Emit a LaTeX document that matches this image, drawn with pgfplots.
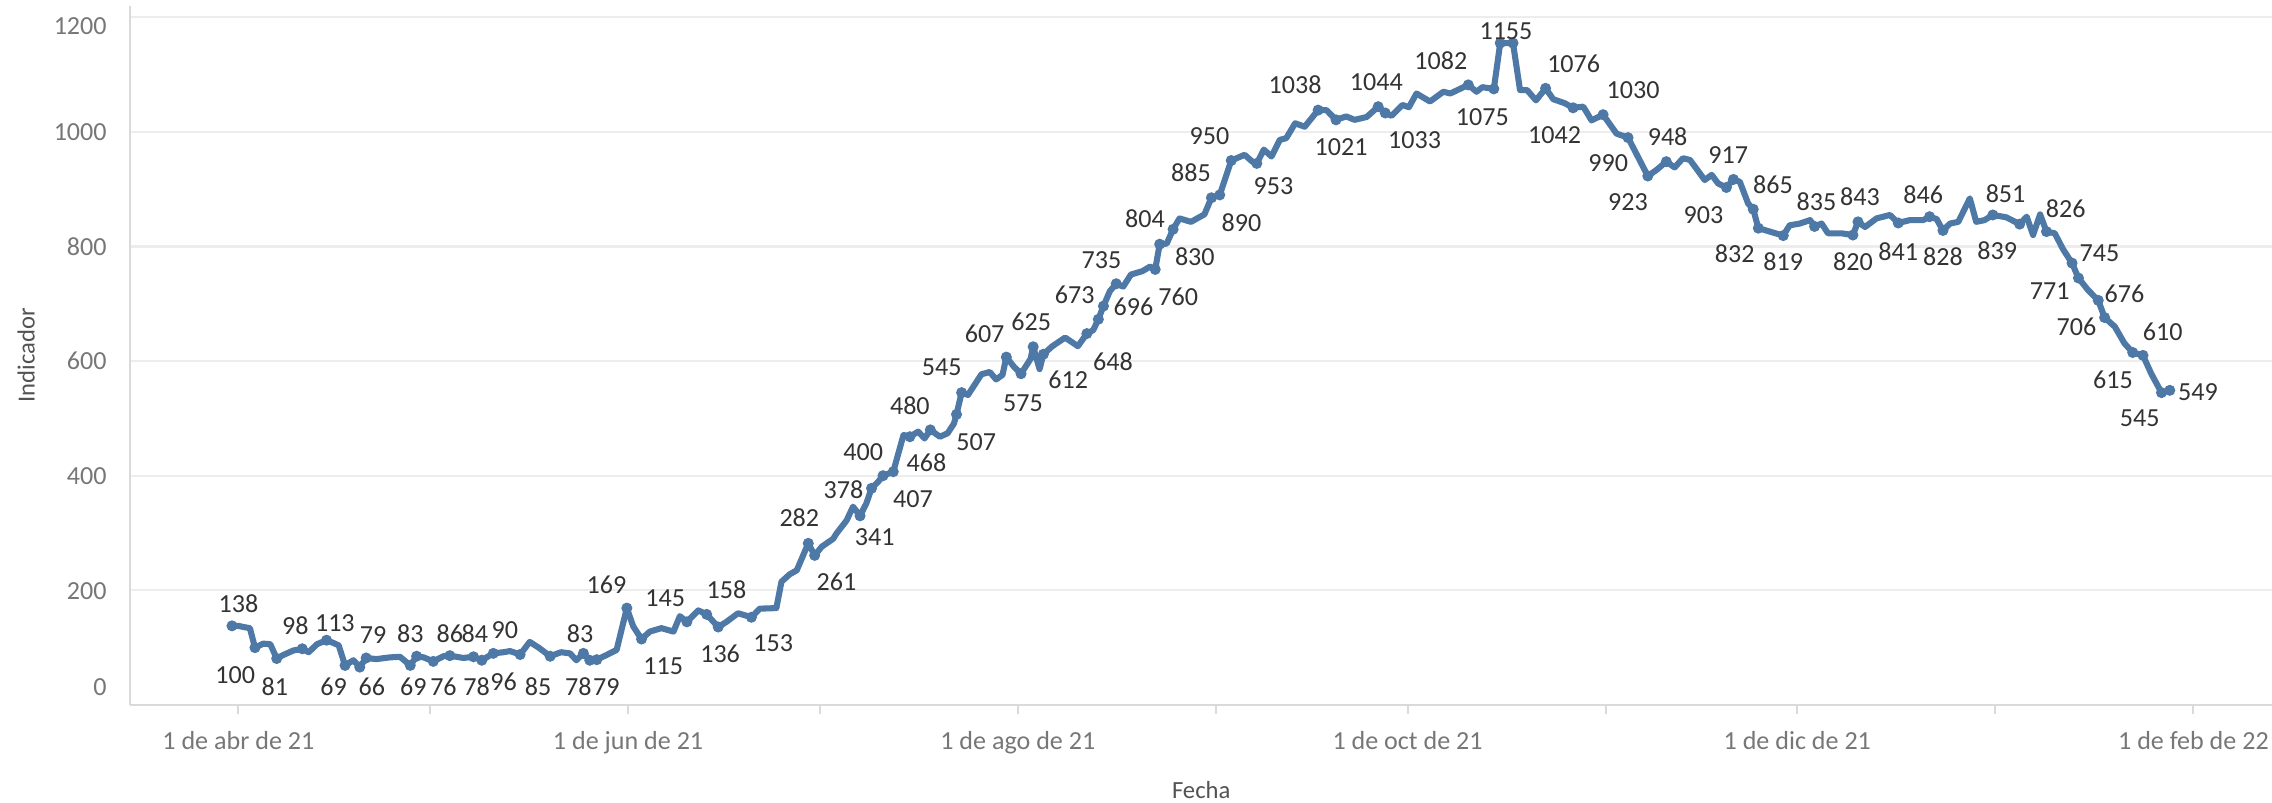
\documentclass[border=0pt]{standalone}
\usepackage{fontspec}
\setmainfont{Carlito}
\usepackage{pgfplots}
\pgfplotsset{compat=1.18}
\definecolor{tabblue}{HTML}{4E79A7}
\definecolor{gridgray}{HTML}{EDEDED}
\definecolor{axgray}{HTML}{DADADA}
\definecolor{ticktext}{HTML}{777777}
\definecolor{labtext}{HTML}{333333}

% day 0 = 1 de abr de 21
\pgfplotstableread{
day val
-1.0 138
0.0 138
0.8 136
1.8 134
2.6 100
3.9 107
5.0 106
6.0 81
7.0 87
8.6 95
10.0 98
11.0 92
12.3 106
13.8 113
14.9 108
15.7 104
16.7 69
18.0 78
19.0 66
20.0 82
21.6 80
23.7 83
25.3 84
26.9 69
27.9 85
29.0 83
30.5 76
32.1 85
33.1 86
35.2 82
36.8 84
38.1 78
39.9 90
41.5 92
42.5 94
44.1 88
45.6 110
47.0 100
48.8 85
50.5 92
51.9 90
52.9 78
54.0 90
55.0 78
56.1 79
57.6 87
59.2 96
60.8 169
61.8 137
63.1 115
64.4 128
66.2 134
68.1 128
69.1 155
70.2 145
72.0 165
73.3 158
75.1 136
76.4 145
78.2 160
80.3 153
81.6 168
84.2 169
85.0 215
86.3 228
87.4 235
89.2 282
90.2 261
91.3 276
93.1 290
93.6 299
95.2 322
96.2 346
97.3 330
98.3 352
99.1 378
100.1 389
100.9 400
102.5 407
104.1 471
105.1 468
106.4 477
107.4 465
108.3 480
109.8 468
111.0 474
112.0 491
112.4 507
113.2 545
114.2 541
116.3 577
117.6 581
118.6 568
119.6 576
120.2 607
121.4 590
122.5 578
124.0 604
124.4 625
125.4 586
126.0 612
127.4 626
129.4 641
131.4 626
132.8 648
133.8 654
134.6 673
135.4 696
136.4 722
137.4 735
138.5 730
139.7 751
141.5 757
142.7 765
143.5 760
144.2 804
145.3 805
146.3 830
147.3 849
149.1 843
151.2 856
152.3 885
153.6 890
155.4 950
157.5 960
158.7 948
159.4 945
160.5 969
161.7 957
163.0 986
164.0 989
165.4 1015
166.9 1009
169.0 1038
170.3 1038
171.8 1021
173.4 1027
174.7 1021
176.6 1026
178.4 1044
179.5 1033
180.5 1028
182.2 1047
183.2 1043
184.4 1067
186.5 1053
188.6 1070
189.7 1067
192.5 1082
193.8 1070
194.7 1078
196.5 1075
197.5 1155
199.5 1155
200.6 1073
201.7 1073
203.1 1055
204.6 1076
205.8 1057
207.6 1050
208.9 1042
210.5 1044
211.8 1020
213.6 1030
215.7 997
217.5 990
218.8 962
220.6 923
221.9 933
223.5 948
224.8 938
226.1 954
227.2 951
228.2 936
229.5 916
230.6 925
231.6 910
232.9 903
234.0 917
235.0 913
236.3 875
237.1 865
237.9 832
239.7 826
241.8 819
242.8 837
244.4 840
246.0 846
246.7 835
247.8 840
248.8 823
250.9 823
252.7 820
253.5 843
254.6 834
256.4 849
258.5 855
259.8 841
261.6 846
263.7 846
264.7 852
265.8 848
266.8 828
267.9 840
269.2 843
271.0 884
272.0 843
273.3 846
274.6 855
276.7 851
278.8 839
279.9 852
280.9 820
282.0 856
283.0 826
284.3 823
285.6 795
287.0 771
288.0 745
289.5 724
291.1 706
292.1 676
293.7 660
295.2 631
296.5 615
298.1 610
299.4 578
301.0 545
302.3 549
}\serie

% puntos con etiqueta (marcas)
\pgfplotstableread{
day val
-1.0 138
2.6 100
6.0 81
10.0 98
13.8 113
16.7 69
19.0 66
20.0 82
26.9 69
27.9 85
30.5 76
33.1 86
36.8 84
38.1 78
39.9 90
44.1 88
48.8 85
54.0 90
55.0 78
56.1 79
60.8 169
63.1 115
70.2 145
73.3 158
75.1 136
80.3 153
89.2 282
90.2 261
97.3 330
99.1 378
100.9 400
102.5 407
105.1 468
108.3 480
112.4 507
113.2 545
120.2 607
122.5 578
124.4 625
126.0 612
132.8 648
134.6 673
135.4 696
137.4 735
143.5 760
144.2 804
146.3 830
152.3 885
153.6 890
155.4 950
159.4 945
169.0 1038
171.8 1021
178.4 1044
179.5 1033
192.5 1082
196.5 1075
197.5 1155
199.5 1155
204.6 1076
208.9 1042
213.6 1030
217.5 990
220.6 923
223.5 948
232.9 903
234.0 917
237.1 865
237.9 832
241.8 819
246.7 835
252.7 820
253.5 843
259.8 841
264.7 852
266.8 828
274.6 855
278.8 839
283.0 826
287.0 771
288.0 745
291.1 706
292.1 676
296.5 615
298.1 610
301.0 545
302.3 549
}\marcas

% posicion de cada etiqueta y su texto
\pgfplotstableread{
day val lab
0.0 177 138
-0.5 52 100
5.7 32 81
8.9 139 98
15.1 142 113
14.9 32 69
21.1 122 79
20.9 32 66
26.9 125 83
27.4 32 69
33.1 125 86
32.1 32 76
37.3 32 78
37.0 125 84
41.7 131 90
41.5 40 96
46.9 32 85
53.5 125 83
53.2 32 78
57.6 32 79
57.6 209 169
66.8 186 145
66.5 67 115
76.4 201 158
75.4 90 136
83.7 107 153
87.8 326 282
93.6 215 261
94.7 375 378
99.6 292 341
97.8 442 400
105.6 359 407
105.1 522 480
107.7 422 468
110.1 590 545
115.5 459 507
116.8 648 607
122.8 526 575
124.1 669 625
129.9 567 612
136.9 599 648
130.9 715 673
140.1 694 696
135.1 777 735
147.1 712 760
141.9 849 804
149.7 782 830
149.1 928 885
157.0 841 890
152.0 992 950
162.0 905 953
165.4 1082 1038
172.6 974 1021
178.1 1087 1044
184.1 986 1033
188.2 1125 1082
194.7 1026 1075
198.4 1176 1155
209.0 1118 1076
206.0 994 1042
218.3 1073 1030
214.4 945 990
217.5 878 923
223.7 991 948
233.2 959 917
229.3 855 903
240.2 907 865
234.2 788 832
247.0 878 835
253.8 887 843
241.8 773 819
252.7 773 820
259.8 791 841
263.7 890 846
266.8 782 828
276.6 893 851
275.3 792 839
286.0 866 826
291.3 788 745
283.5 722 771
295.2 718 676
287.7 660 706
301.2 651 610
293.4 567 615
297.6 500 545
306.7 546 549
}\etiquetas

\begin{document}
\begin{tikzpicture}
\begin{axis}[
  at={(0,0)}, anchor=south west,
  width=739pt, height=241.25pt, scale only axis,
  xmin=-16.9, xmax=318.3,
  ymin=0, ymax=1220,
  clip=false,
  axis lines=left,
  axis line style={-, draw=axgray, line width=0.7pt},
  xtick={0,61,122,183,244,306},
  xticklabels={1 de abr de 21,1 de jun de 21,1 de ago de 21,1 de oct de 21,1 de dic de 21,1 de feb de 22},
  minor xtick={30,91,153,214,275},
  tick align=outside,
  major tick length=3pt, minor tick length=3pt,
  xtick style={draw=axgray, line width=0.7pt},
  ytick={0,200,...,1200},
  ytick style={draw=none},
  ymajorgrids,
  major grid style={draw=gridgray, line width=0.7pt},
  /pgf/number format/assume math mode=true,
  tick label style={font=\fontsize{9}{10}\selectfont, text=ticktext},
  xticklabel style={anchor=north, inner sep=0pt, yshift=-6pt},
  % as in the reference, the end labels 0 and 1200 are pulled inside the plot
  yticklabel={\pgfmathtruncatemacro\t{\tick}%
    \ifnum\t=0 \smash{\raisebox{3.2pt}{\t}}%
    \else\ifnum\t=1200 \smash{\raisebox{-6pt}{\t}}%
    \else \smash{\raisebox{-3pt}{\t}}\fi\fi},
  yticklabel style={anchor=east, inner sep=0pt, xshift=-5pt},
  xlabel={Fecha},
  ylabel={Indicador},
  label style={font=\fontsize{8.5}{10}\selectfont, text=labtext!85},
  xlabel style={at={(axis description cs:0.5,-0.121)}, anchor=center},
  ylabel style={at={(axis description cs:-0.0487,0.5)}, anchor=center},
]
\addplot[color=tabblue, line width=2.1pt, line join=round, mark=none] table[x=day, y=val] {\serie};
\addplot[only marks, mark=*, mark size=1.7pt, color=tabblue] table[x=day, y=val] {\marcas};
\addplot[draw=none, mark=none,
  nodes near coords, point meta=explicit symbolic,
  nodes near coords align={anchor=center},
  every node near coord/.append style={font=\fontsize{9}{10}\selectfont, text=labtext, inner sep=0pt}]
  table[x=day, y=val, meta=lab] {\etiquetas};
\end{axis}
\pgfresetboundingbox
\useasboundingbox (-45pt,-33.75pt) rectangle (739pt,243.25pt);
\end{tikzpicture}
\end{document}
